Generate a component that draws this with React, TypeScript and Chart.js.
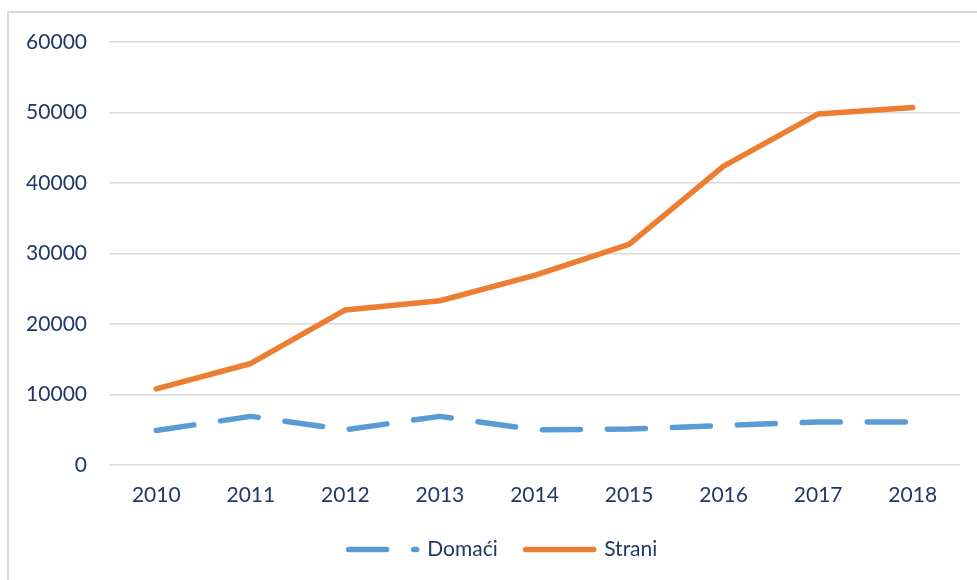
import React, { useEffect, useRef } from "react";
import { Chart, registerables } from "chart.js";

Chart.register(...registerables);

const categories = ["2010", "2011", "2012", "2013", "2014", "2015", "2016", "2017", "2018"];
const domaci = [4900, 6900, 5000, 6900, 5000, 5100, 5600, 6100, 6100];
const strani = [10800, 14400, 22000, 23300, 26900, 31300, 42400, 49800, 50700];
const seriesNames = ["Domaći", "Strani"];
const yTicks = [0, 10000, 20000, 30000, 40000, 50000, 60000];

const TEXT = "#1f3864";
const FONT = "Lato";
const LINE_W = 5.5;

const legendShift = {
  id: "legendShift",
  afterLayout(chart: any) {
    const lg = chart.legend;
    if (lg) {
      lg.left += 23;
      lg.right += 23;
    }
  },
};

export default function App() {
  const ref = useRef<HTMLCanvasElement | null>(null);

  useEffect(() => {
    if (!ref.current) return;
    const chart = new Chart(ref.current, {
      type: "line",
      data: {
        labels: categories,
        datasets: [
          {
            label: seriesNames[0],
            data: domaci,
            borderColor: "#5B9BD5",
            backgroundColor: "#5B9BD5",
            borderWidth: LINE_W,
            borderDash: [38, 27],
            borderCapStyle: "round",
            borderJoinStyle: "round",
            pointRadius: 0,
            pointHoverRadius: 0,
            tension: 0,
          },
          {
            label: seriesNames[1],
            data: strani,
            borderColor: "#ED7D31",
            backgroundColor: "#ED7D31",
            borderWidth: LINE_W,
            borderCapStyle: "round",
            borderJoinStyle: "round",
            pointRadius: 0,
            pointHoverRadius: 0,
            tension: 0,
          },
        ],
      },
      plugins: [legendShift],
      options: {
        responsive: false,
        animation: false,
        events: [],
        layout: { padding: { left: 0, right: 17, top: 42, bottom: 10 } },
        plugins: {
          tooltip: { enabled: false },
          title: { display: false },
          legend: {
            position: "bottom",
            labels: {
              usePointStyle: true,
              pointStyle: "line",
              pointStyleWidth: 68,
              color: TEXT,
              font: { family: FONT, size: 21 },
              padding: 28,
              generateLabels: (c: any) =>
                c.data.datasets.map((ds: any, i: number) => ({
                  text: ds.label,
                  fillStyle: ds.borderColor,
                  strokeStyle: ds.borderColor,
                  fontColor: TEXT,
                  lineWidth: LINE_W,
                  lineDash: ds.borderDash || [],
                  lineDashOffset: 0,
                  lineCap: "round",
                  lineJoin: "round",
                  pointStyle: "line",
                  hidden: false,
                  datasetIndex: i,
                })),
            },
          },
        },
        scales: {
          x: {
            type: "category",
            offset: true,
            grid: { display: false, drawTicks: false },
            border: { display: false },
            ticks: {
              color: TEXT,
              font: { family: FONT, size: 21 },
              padding: 18,
              maxRotation: 0,
            },
            afterFit: (s: any) => {
              s.height = 46;
            },
          },
          y: {
            min: 0,
            max: 60000,
            afterBuildTicks: (s: any) => {
              s.ticks = yTicks.map((v) => ({ value: v }));
            },
            grid: { color: "#d9d9d9", lineWidth: 1.5, drawTicks: false },
            border: { display: false },
            ticks: {
              color: TEXT,
              font: { family: FONT, size: 21 },
              padding: 22,
              callback: (v: any) => String(v),
            },
            afterFit: (s: any) => {
              s.width = 109;
            },
          },
        },
      },
    });
    return () => chart.destroy();
  }, []);

  return (
    <div
      style={{
        position: "fixed",
        left: 0,
        top: 0,
        width: 977,
        height: 580,
        background: "#ffffff",
        overflow: "hidden",
      }}
    >
      <div
        style={{
          position: "absolute",
          left: 7,
          top: 11,
          width: 1100,
          height: 700,
          borderLeft: "2px solid #d9d9d9",
          borderTop: "2px solid #d9d9d9",
        }}
      />
      <canvas
        ref={ref}
        width={977}
        height={580}
        style={{ position: "absolute", left: 0, top: 0, width: 977, height: 580 }}
      />
    </div>
  );
}
